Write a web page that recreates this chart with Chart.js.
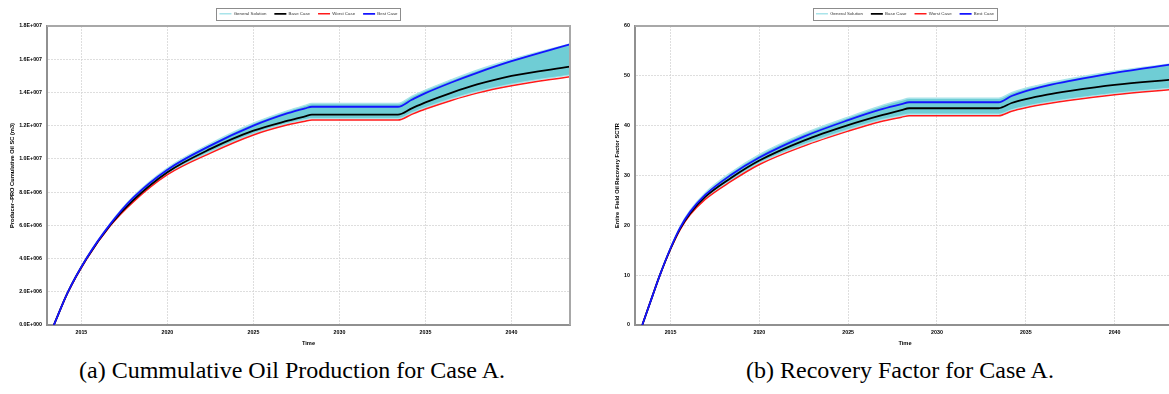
<!DOCTYPE html>
<html>
<head>
<meta charset="utf-8">
<script src="https://cdn.jsdelivr.net/npm/chart.js@4/dist/chart.umd.min.js"></script>
<style>
  body { margin: 0; background: #fff; width: 1169px; height: 394px; overflow: hidden; position: relative; }
  .box { position: absolute; top: 0; height: 352px; }
  #boxA { left: 0; width: 574px; }
  #boxB { left: 600px; width: 577px; }
  .caption { position: absolute; top: 357px; font-family: "Liberation Serif", "Times New Roman", serif; font-size: 24px; color: #000; text-align: center; white-space: nowrap; }
  #capA { left: 0px; width: 584px; }
  #capB { left: 600px; width: 600px; }
</style>
</head>
<body>
<div class="box" id="boxA"><canvas id="chartA"></canvas></div>
<div class="box" id="boxB"><canvas id="chartB"></canvas></div>
<div class="caption" id="capA">(a) Cummulative Oil Production for Case A.</div>
<div class="caption" id="capB">(b) Recovery Factor for Case A.</div>

<script>
// Cumulative oil (left chart), m3
const cumYears  = [2013.4, 2014.2, 2015.3, 2016.7, 2018.0, 2020.0, 2022.5, 2025.0, 2027.0, 2028.0, 2028.4, 2033.4, 2034.2, 2035.0, 2036.5, 2038.0, 2040.0, 2043.4];
const cumBase   = [0, 1.95e6, 4.0e6, 6.05e6, 7.5e6, 9.2e6, 1.06e7, 1.17e7, 1.23e7, 1.256e7, 1.266e7, 1.266e7, 1.304e7, 1.34e7, 1.398e7, 1.448e7, 1.5e7, 1.555e7];
const cumWorst  = [0, 1.93e6, 3.97e6, 6.0e6, 7.4e6, 9.05e6, 1.035e7, 1.144e7, 1.205e7, 1.227e7, 1.234e7, 1.234e7, 1.268e7, 1.3e7, 1.352e7, 1.396e7, 1.44e7, 1.495e7];
const cumBest   = [0, 1.95e6, 4.02e6, 6.1e6, 7.65e6, 9.35e6, 1.08e7, 1.2e7, 1.275e7, 1.304e7, 1.314e7, 1.314e7, 1.356e7, 1.396e7, 1.46e7, 1.518e7, 1.588e7, 1.69e7];
const cumGenMax = [0, 1.96e6, 4.05e6, 6.15e6, 7.72e6, 9.45e6, 1.092e7, 1.215e7, 1.29e7, 1.322e7, 1.334e7, 1.334e7, 1.376e7, 1.414e7, 1.476e7, 1.534e7, 1.598e7, 1.692e7];
const cumGenMin = [0, 1.93e6, 3.98e6, 6.02e6, 7.45e6, 9.1e6, 1.042e7, 1.152e7, 1.214e7, 1.236e7, 1.243e7, 1.243e7, 1.277e7, 1.309e7, 1.361e7, 1.405e7, 1.45e7, 1.505e7];

// Recovery factor (right chart), %
const rfYears  = [2013.41, 2014.0, 2014.4, 2015.0, 2015.55, 2016.1, 2016.95, 2018.4, 2020.0, 2022.5, 2025.0, 2026.8, 2028.0, 2028.44, 2033.47, 2034.2, 2035.0, 2036.2, 2037.5, 2040.0, 2043.4];
const rfBase   = [0, 6.0, 10, 15.3, 19.4, 22.4, 25.7, 29.5, 33.0, 37.0, 40.1, 42.0, 43.1, 43.5, 43.5, 44.55, 45.35, 46.25, 47.0, 48.2, 49.3];
const rfWorst  = [0, 6.0, 10, 15.2, 19.2, 22.1, 25.2, 28.8, 32.2, 35.9, 38.9, 40.8, 41.7, 42.0, 42.0, 42.9, 43.6, 44.4, 45.1, 46.2, 47.3];
const rfBest   = [0, 6.0, 10, 15.4, 19.6, 22.7, 26.1, 30.1, 33.6, 37.8, 41.1, 43.2, 44.3, 44.7, 44.7, 45.95, 46.95, 48.05, 49.0, 50.6, 52.4];
const rfGenMax = [0, 6.05, 10.1, 15.5, 19.8, 23.0, 26.5, 30.6, 34.2, 38.4, 41.7, 43.9, 45.1, 45.5, 45.5, 46.6, 47.5, 48.5, 49.4, 50.9, 52.5];
const rfGenMin = [0, 6.0, 10, 15.2, 19.3, 22.2, 25.4, 29.0, 32.5, 36.2, 39.2, 41.1, 42.0, 42.3, 42.3, 43.2, 43.9, 44.7, 45.4, 46.5, 47.6];

const xTicks = [2015, 2020, 2025, 2030, 2035, 2040];
const labels = ['General Solution', 'Base Case', 'Worst Case', 'Best Case'];

// Function to format numbers like 1.8E+007
function sciFormat(v) {
  if (v === 0) return '0.0E+000';
  const e = Math.floor(Math.log10(v) + 1e-9);
  const m = v / Math.pow(10, e);
  return m.toFixed(1) + 'E+' + String(e).padStart(3, '0');
}

// Function to pair years with values
function toPoints(years, values) {
  return years.map((y, i) => ({ x: y, y: values[i] }));
}

// Plot frame (top/right) + box around the legend
const framePlugin = {
  id: 'frame',
  afterDraw(chart) {
    const ctx = chart.ctx;
    const a = chart.chartArea;
    ctx.save();
    ctx.strokeStyle = '#a8a8a8';
    ctx.lineWidth = 2;
    ctx.beginPath();
    ctx.moveTo(a.left, a.top);
    ctx.lineTo(a.right, a.top);
    ctx.lineTo(a.right, a.bottom);
    ctx.stroke();

    const boxes = chart.legend.legendHitBoxes;
    if (boxes && boxes.length) {
      const first = boxes[0];
      const last = boxes[boxes.length - 1];
      const x0 = first.left - 3;
      const x1 = last.left + last.width + 3;
      const y0 = first.top - 3.8;
      const y1 = first.top + first.height + 3.8;
      ctx.strokeStyle = '#8c8c8c';
      ctx.lineWidth = 1;
      ctx.strokeRect(Math.round(x0) + 0.5, Math.round(y0) + 0.5, Math.round(x1 - x0), Math.round(y1 - y0));
    }
    ctx.restore();
  }
};

// Function to build one chart
function makeChart(id, cfg) {
  const ctx = document.getElementById(id).getContext('2d');
  const lineOpts = { pointRadius: 0, fill: false, cubicInterpolationMode: 'monotone' };
  const tickFont = { family: 'Liberation Sans', size: 5.3, weight: 'bold' };
  const titleFont = { family: 'Liberation Sans', size: 5.7, weight: 'bold' };

  return new Chart(ctx, {
    type: 'line',
    data: {
      datasets: [
        Object.assign({}, lineOpts, {
          label: labels[0], data: toPoints(cfg.years, cfg.genMax),
          borderColor: '#a9e4ea', borderWidth: 1.5, backgroundColor: '#6fcdd5', fill: '+1', order: 10
        }),
        Object.assign({}, lineOpts, {
          label: 'hidden', data: toPoints(cfg.years, cfg.genMin),
          borderColor: '#a9e4ea', borderWidth: 1.2, order: 9
        }),
        Object.assign({}, lineOpts, {
          label: labels[1], data: toPoints(cfg.years, cfg.base),
          borderColor: '#000000', borderWidth: 1.8, order: 2
        }),
        Object.assign({}, lineOpts, {
          label: labels[2], data: toPoints(cfg.years, cfg.worst),
          borderColor: '#ff1a1a', borderWidth: 1.5, order: 3
        }),
        Object.assign({}, lineOpts, {
          label: labels[3], data: toPoints(cfg.years, cfg.best),
          borderColor: '#1414ff', borderWidth: 1.8, order: 1
        })
      ]
    },
    options: {
      responsive: true,
      maintainAspectRatio: false,
      animation: false,
      layout: { padding: { left: 0, right: cfg.padRight, top: 3.6, bottom: 0 } },
      plugins: {
        tooltip: { enabled: false },
        legend: {
          position: 'top',
          fullSize: false,
          labels: {
            font: { family: 'Liberation Sans', size: 4.4 },
            color: '#333',
            padding: 8,
            usePointStyle: true,
            pointStyle: 'line',
            pointStyleWidth: 12,
            filter: item => item.text !== 'hidden',
            sort: (a, b) => a.datasetIndex - b.datasetIndex
          }
        }
      },
      scales: {
        x: {
          type: 'linear',
          min: 2013.0,
          max: 2043.4,
          afterBuildTicks: scale => { scale.ticks = xTicks.map(v => ({ value: v })); },
          afterFit: scale => { scale.height = 27; },
          ticks: { callback: v => String(v), font: tickFont, color: '#000', padding: 4, maxRotation: 0 },
          grid: { color: '#d6d6d6', lineWidth: 0.8, drawTicks: false },
          border: { color: '#909090', width: 2, dash: [2, 1] },
          title: { display: true, text: 'Time', font: titleFont, color: '#000', padding: { top: 0, bottom: 5 } }
        },
        y: {
          min: 0,
          max: cfg.yMax,
          afterFit: scale => { scale.width = cfg.yWidth; },
          ticks: { stepSize: cfg.yStep, callback: cfg.yFormat, font: tickFont, color: '#000', padding: 5 },
          grid: { color: '#d6d6d6', lineWidth: 0.8, drawTicks: false },
          border: { color: '#909090', width: 2, dash: [2, 1] },
          title: { display: true, text: cfg.yTitle, font: titleFont, color: '#000', padding: { top: cfg.titlePad, bottom: 0 } }
        }
      }
    },
    plugins: [framePlugin]
  });
}

makeChart('chartA', {
  years: cumYears, base: cumBase, worst: cumWorst, best: cumBest, genMax: cumGenMax, genMin: cumGenMin,
  yMax: 1.8e7, yStep: 2e6, yFormat: v => sciFormat(v),
  yTitle: 'Producer\u2013PRO Cumulative Oil SC (m3)', yWidth: 47, titlePad: 9.5, padRight: 4
});

makeChart('chartB', {
  years: rfYears, base: rfBase, worst: rfWorst, best: rfBest, genMax: rfGenMax, genMin: rfGenMin,
  yMax: 60, yStep: 10, yFormat: v => String(v),
  yTitle: 'Entire  Field Oil Recovery Factor SCTR', yWidth: 35, titlePad: 14.5, padRight: 2
});
</script>
</body>
</html>
